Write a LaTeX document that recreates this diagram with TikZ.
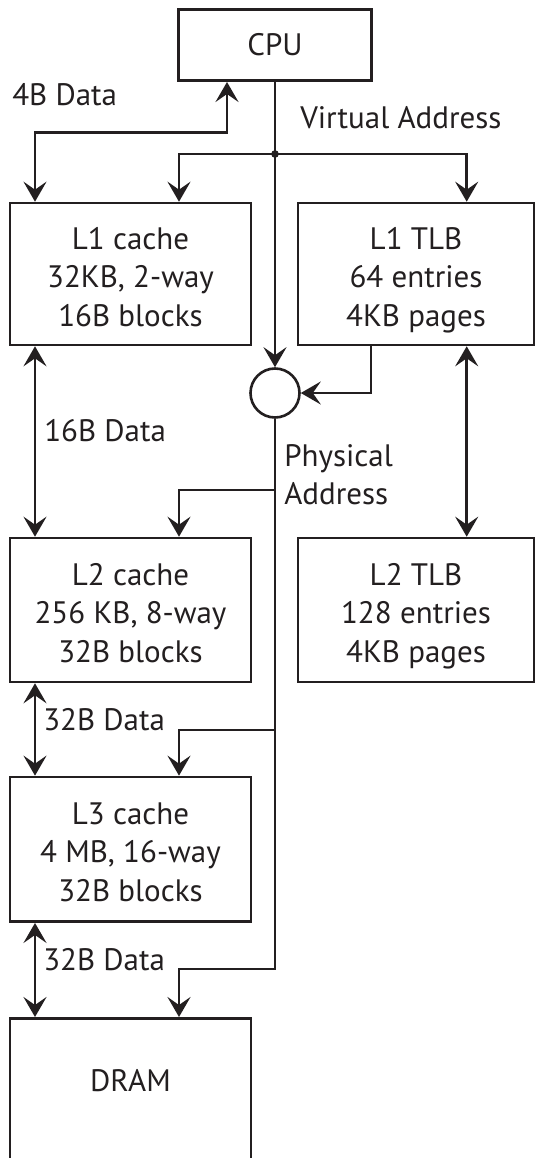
\documentclass[tikz,border=0pt]{standalone}
\usepackage{fontspec}
\setmainfont{PT Sans}
\usetikzlibrary{arrows.meta}
\definecolor{ink}{HTML}{231F20}
\newcommand{\diafont}{\fontsize{31}{38.5}\selectfont}
\begin{document}
\begin{tikzpicture}[x=1pt, y=-1pt, line width=2.6pt,
  >={Stealth[length=20pt,width=23pt,inset=8pt]},
  box/.style={draw=ink, text=ink, align=center, inner sep=0pt, font=\diafont,
    text height=104pt, text depth=0pt, minimum width=241pt},
  lbl/.style={text=ink, inner sep=0pt, font=\diafont, anchor=base west},
  arr/.style={draw=ink, ->},
  dbl/.style={draw=ink, <->}]
\useasboundingbox (0,0) rectangle (536,1158);
\clip (0,0) rectangle (536,1158);
\fill[white] (0,0) rectangle (536,1158);

\node[box, minimum width=193pt, minimum height=71.4pt, text height=22pt, text depth=0pt] (cpu) at (275,45) {CPU};
\node[box, minimum height=142pt] (l1) at (130.5,274) {L1 cache\\32KB, 2-way\\16B blocks};
\node[box, minimum width=236pt, minimum height=142pt] (tlb1) at (416,274) {L1 TLB\\64 entries\\4KB pages};
\node[draw=ink, circle, minimum size=49pt, inner sep=0pt] (pc) at (275,393) {};
\node[box, minimum height=144pt] (l2) at (130.5,610) {L2 cache\\256 KB, 8-way\\32B blocks};
\node[box, minimum width=236pt, minimum height=144pt] (tlb2) at (416,610) {L2 TLB\\128 entries\\4KB pages};
\node[box, minimum height=144.7pt] (l3) at (130.5,849.3) {L3 cache\\4 MB, 16-way\\32B blocks};
\node[box, anchor=north, text height=73pt, text depth=160pt] (dram) at (130.5,1017) {DRAM};

\coordinate (j) at (275,154);
\coordinate (pe) at (275,969);
\coordinate (b2) at (275,490);
\coordinate (b3) at (275,730);

\draw[arr] (cpu.south) -- (pc.north);
\fill[ink] (j) circle (3.8pt);
\draw[arr] (j) -| ([xshift=48.5pt]l1.north);
\draw[arr] (j) -| ([xshift=50.7pt]tlb1.north);
\draw[dbl] ([xshift=-48pt]cpu.south) -- ++(0,50.3) -| ([xshift=-95.5pt]l1.north);
\draw[arr] ([xshift=-45pt]tlb1.south) |- (pc.east);
\draw[dbl] ([xshift=50.7pt]tlb1.south) -- ([xshift=50.7pt]tlb2.north);
\draw[dbl] ([xshift=-95.5pt]l1.south) -- ([xshift=-95.5pt]l2.north);
\draw[dbl] ([xshift=-95.5pt]l2.south) -- ([xshift=-95.5pt]l3.north);
\draw[dbl] ([xshift=-95.5pt]l3.south) -- ([xshift=-95.5pt]dram.north);
\draw[arr] (pc.south) -- (pe) -| ([xshift=48.5pt]dram.north);
\draw[arr] (b2) -| ([xshift=48.5pt]l2.north);
\draw[arr] (b3) -| ([xshift=48.5pt]l3.north);

\node[lbl] (t4b) at (11,106) {4B Data};
\node[lbl] (tva) at (299,128.3) {Virtual Address};
\node[lbl] (t16) at (43,441.7) {16B Data};
\node[lbl] (tph) at (283,466.7) {Physical};
\node[lbl] (tad) at (283,504) {Address};
\node[lbl] (t32a) at (42,730) {32B Data};
\node[lbl] (t32b) at (42,970) {32B Data};
\end{tikzpicture}
\end{document}
